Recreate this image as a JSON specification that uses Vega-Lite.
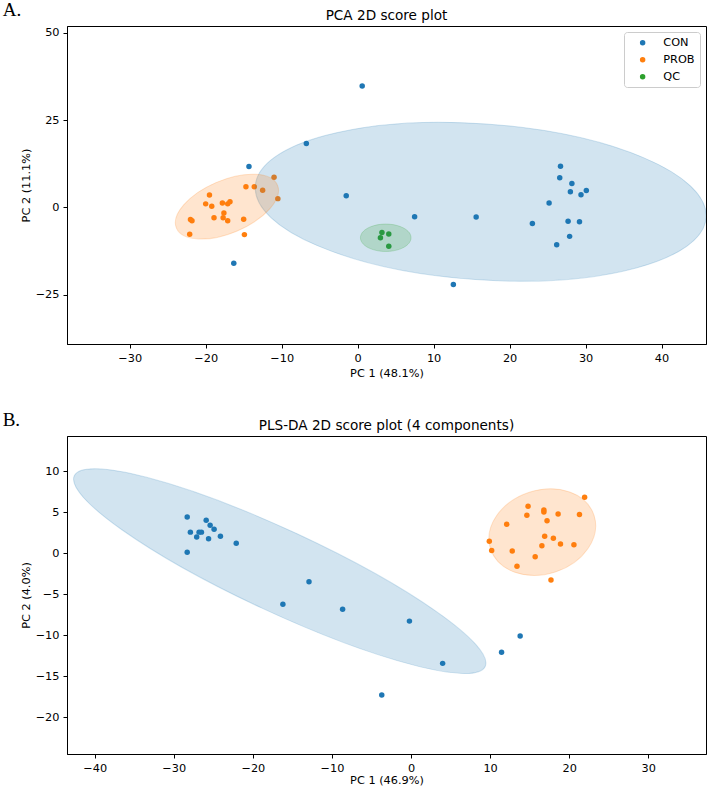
{
  "$schema": "https://vega.github.io/schema/vega-lite/v6.json",
  "background": "white",
  "padding": {"left": 2, "top": 1, "right": 2, "bottom": 0},
  "spacing": 31,
  "config": {
    "font": "DejaVu Sans",
    "view": {"stroke": "#000", "strokeWidth": 1},
    "title": {"font": "DejaVu Sans", "fontSize": 13.6, "fontWeight": "normal", "color": "#000"},
    "axis": {
      "grid": false, "domainColor": "#000", "tickColor": "#000", "tickSize": 4,
      "labelFont": "DejaVu Sans", "labelFontSize": 11.3, "labelColor": "#000", "labelPadding": 4,
      "titleFont": "DejaVu Sans", "titleFontSize": 11.3, "titleFontWeight": "normal", "titleColor": "#000", "titlePadding": 4,
      "labelFlush": false, "labelOverlap": false
    },
    "legend": {
      "title": null, "orient": "top-right", "offset": 6, "strokeColor": "#cccccc", "fillColor": "#ffffff",
      "cornerRadius": 3, "padding": 5, "rowPadding": 5, "symbolType": "circle", "symbolSize": 30,
      "symbolOpacity": 1, "symbolOffset": 8, "labelOffset": 15, "labelFont": "DejaVu Sans",
      "labelFontSize": 11.3, "labelColor": "#000"
    }
  },
  "datasets": {
    "pca": [
      {"group": "CON", "PC1": -6.75, "PC2": 18.3},
      {"group": "CON", "PC1": -14.3, "PC2": 11.7},
      {"group": "CON", "PC1": -1.5, "PC2": 3.35},
      {"group": "CON", "PC1": -16.3, "PC2": -16.0},
      {"group": "CON", "PC1": 0.6, "PC2": 34.7},
      {"group": "CON", "PC1": 7.5, "PC2": -2.7},
      {"group": "CON", "PC1": 15.6, "PC2": -2.75},
      {"group": "CON", "PC1": 12.6, "PC2": -22.1},
      {"group": "CON", "PC1": 26.7, "PC2": 11.75},
      {"group": "CON", "PC1": 26.6, "PC2": 8.5},
      {"group": "CON", "PC1": 28.2, "PC2": 6.8},
      {"group": "CON", "PC1": 28.0, "PC2": 4.5},
      {"group": "CON", "PC1": 29.4, "PC2": 3.6},
      {"group": "CON", "PC1": 30.1, "PC2": 4.8},
      {"group": "CON", "PC1": 25.2, "PC2": 1.25},
      {"group": "CON", "PC1": 23.0, "PC2": -4.6},
      {"group": "CON", "PC1": 27.7, "PC2": -4.0},
      {"group": "CON", "PC1": 29.2, "PC2": -4.1},
      {"group": "CON", "PC1": 27.9, "PC2": -8.3},
      {"group": "CON", "PC1": 26.2, "PC2": -10.7},
      {"group": "PROB", "PC1": -22.1, "PC2": -7.7},
      {"group": "PROB", "PC1": -22.0, "PC2": -3.5},
      {"group": "PROB", "PC1": -21.8, "PC2": -3.8},
      {"group": "PROB", "PC1": -19.5, "PC2": 3.55},
      {"group": "PROB", "PC1": -20.0, "PC2": 1.0},
      {"group": "PROB", "PC1": -19.2, "PC2": 0.3},
      {"group": "PROB", "PC1": -18.9, "PC2": -3.0},
      {"group": "PROB", "PC1": -17.8, "PC2": 1.25},
      {"group": "PROB", "PC1": -17.1, "PC2": 1.0},
      {"group": "PROB", "PC1": -16.8, "PC2": 1.6},
      {"group": "PROB", "PC1": -17.6, "PC2": -1.6},
      {"group": "PROB", "PC1": -17.7, "PC2": -3.0},
      {"group": "PROB", "PC1": -17.1, "PC2": -3.8},
      {"group": "PROB", "PC1": -15.0, "PC2": -3.4},
      {"group": "PROB", "PC1": -14.9, "PC2": -7.8},
      {"group": "PROB", "PC1": -14.7, "PC2": 5.9},
      {"group": "PROB", "PC1": -13.6, "PC2": 5.9},
      {"group": "PROB", "PC1": -12.5, "PC2": 4.9},
      {"group": "PROB", "PC1": -11.0, "PC2": 8.6},
      {"group": "PROB", "PC1": -10.5, "PC2": 2.5},
      {"group": "QC", "PC1": 3.2, "PC2": -7.2},
      {"group": "QC", "PC1": 3.0, "PC2": -8.7},
      {"group": "QC", "PC1": 4.1, "PC2": -7.6},
      {"group": "QC", "PC1": 4.1, "PC2": -11.1}
    ],
    "pcaEllipses": [
      {"group": "CON", "PC1": 16.2, "PC2": 1.6},
      {"group": "PROB", "PC1": -17.2, "PC2": 0.2},
      {"group": "QC", "PC1": 3.7, "PC2": -8.7}
    ],
    "pls": [
      {"group": "CON", "PC1": -28.3, "PC2": 4.4},
      {"group": "CON", "PC1": -27.9, "PC2": 2.55},
      {"group": "CON", "PC1": -28.3, "PC2": 0.1},
      {"group": "CON", "PC1": -27.1, "PC2": 1.95},
      {"group": "CON", "PC1": -26.8, "PC2": 2.55},
      {"group": "CON", "PC1": -26.5, "PC2": 2.55},
      {"group": "CON", "PC1": -25.9, "PC2": 4.0},
      {"group": "CON", "PC1": -25.4, "PC2": 3.4},
      {"group": "CON", "PC1": -25.6, "PC2": 1.75},
      {"group": "CON", "PC1": -24.9, "PC2": 2.9},
      {"group": "CON", "PC1": -24.1, "PC2": 2.05},
      {"group": "CON", "PC1": -22.1, "PC2": 1.2},
      {"group": "CON", "PC1": -16.2, "PC2": -6.25},
      {"group": "CON", "PC1": -12.9, "PC2": -3.5},
      {"group": "CON", "PC1": -8.65, "PC2": -6.85},
      {"group": "CON", "PC1": -0.2, "PC2": -8.3},
      {"group": "CON", "PC1": 4.0, "PC2": -13.45},
      {"group": "CON", "PC1": -3.7, "PC2": -17.3},
      {"group": "CON", "PC1": 11.45, "PC2": -12.1},
      {"group": "CON", "PC1": 13.8, "PC2": -10.1},
      {"group": "PROB", "PC1": 9.9, "PC2": 1.45},
      {"group": "PROB", "PC1": 10.2, "PC2": 0.3},
      {"group": "PROB", "PC1": 12.1, "PC2": 3.5},
      {"group": "PROB", "PC1": 12.8, "PC2": 0.25},
      {"group": "PROB", "PC1": 13.4, "PC2": -1.6},
      {"group": "PROB", "PC1": 14.8, "PC2": 5.7},
      {"group": "PROB", "PC1": 14.65, "PC2": 4.6},
      {"group": "PROB", "PC1": 15.7, "PC2": -0.45},
      {"group": "PROB", "PC1": 16.55, "PC2": 0.9},
      {"group": "PROB", "PC1": 16.8, "PC2": 5.25},
      {"group": "PROB", "PC1": 16.8, "PC2": 5.0},
      {"group": "PROB", "PC1": 16.9, "PC2": 2.05},
      {"group": "PROB", "PC1": 17.2, "PC2": 3.95},
      {"group": "PROB", "PC1": 17.7, "PC2": -3.3},
      {"group": "PROB", "PC1": 18.0, "PC2": 1.8},
      {"group": "PROB", "PC1": 18.6, "PC2": 4.75},
      {"group": "PROB", "PC1": 18.9, "PC2": 1.1},
      {"group": "PROB", "PC1": 20.6, "PC2": 1.0},
      {"group": "PROB", "PC1": 21.3, "PC2": 4.7},
      {"group": "PROB", "PC1": 21.95, "PC2": 6.8}
    ],
    "plsEllipses": [
      {"group": "CON", "PC1": -16.6, "PC2": -2.2},
      {"group": "PROB", "PC1": 16.6, "PC2": 2.55}
    ]
  },
  "vconcat": [
    {
      "title": {"text": "A.", "anchor": "start", "frame": "bounds", "font": "Liberation Serif", "fontSize": 19, "fontWeight": "normal", "color": "#000", "dx": -17, "offset": -11.5},
      "vconcat": [
        {
          "title": {"text": "PCA 2D score plot", "offset": 3},
          "width": 639,
          "height": 318,
          "encoding": {
            "x": {"field": "PC1", "type": "quantitative", "scale": {"domain": [-38.25, 45.85], "nice": false, "zero": false}, "axis": {"title": "PC 1 (48.1%)", "values": [-30, -20, -10, 0, 10, 20, 30, 40]}},
            "y": {"field": "PC2", "type": "quantitative", "scale": {"domain": [-39.1, 51.9], "nice": false, "zero": false}, "axis": {"title": "PC 2 (11.1%)", "values": [-25, 0, 25, 50]}}
          },
          "layer": [
            {
              "data": {"name": "pca"},
              "mark": {"type": "point", "filled": true, "size": 30, "opacity": 1},
              "encoding": {
                "color": {"field": "group", "type": "nominal", "scale": {"domain": ["CON", "PROB", "QC"], "range": ["#1f77b4", "#ff7f0e", "#2ca02c"]}}
              }
            },
            {
              "data": {"name": "pcaEllipses"},
              "transform": [{"filter": "datum.group === 'CON'"}],
              "mark": {"type": "point", "shape": "M-226,0A226,78,0,1,1,226,0A226,78,0,1,1,-226,0Z", "size": 4, "angle": 4, "clip": true, "opacity": 1, "fill": "#1f77b4", "fillOpacity": 0.2, "stroke": "#1f77b4", "strokeOpacity": 0.2, "strokeWidth": 1}
            },
            {
              "data": {"name": "pcaEllipses"},
              "transform": [{"filter": "datum.group === 'PROB'"}],
              "mark": {"type": "point", "shape": "M-54.9,0A54.9,26.4,0,1,1,54.9,0A54.9,26.4,0,1,1,-54.9,0Z", "size": 4, "angle": 337, "clip": true, "opacity": 1, "fill": "#ff7f0e", "fillOpacity": 0.2, "stroke": "#ff7f0e", "strokeOpacity": 0.2, "strokeWidth": 1}
            },
            {
              "data": {"name": "pcaEllipses"},
              "transform": [{"filter": "datum.group === 'QC'"}],
              "mark": {"type": "point", "shape": "M-25.3,0A25.3,13.7,0,1,1,25.3,0A25.3,13.7,0,1,1,-25.3,0Z", "size": 4, "angle": 0, "clip": true, "opacity": 1, "fill": "#2ca02c", "fillOpacity": 0.2, "stroke": "#2ca02c", "strokeOpacity": 0.2, "strokeWidth": 1}
            }
          ]
        }
      ]
    },
    {
      "title": {"text": "B.", "anchor": "start", "frame": "bounds", "font": "Liberation Serif", "fontSize": 19, "fontWeight": "normal", "color": "#000", "dx": -17, "offset": -11.5},
      "vconcat": [
        {
          "title": {"text": "PLS-DA 2D score plot (4 components)", "offset": 3},
          "width": 639,
          "height": 318,
          "encoding": {
            "x": {"field": "PC1", "type": "quantitative", "scale": {"domain": [-43.5, 37.3], "nice": false, "zero": false}, "axis": {"title": "PC 1 (46.9%)", "titlePadding": 1.5, "values": [-40, -30, -20, -10, 0, 10, 20, 30]}},
            "y": {"field": "PC2", "type": "quantitative", "scale": {"domain": [-24.5, 14.27], "nice": false, "zero": false}, "axis": {"title": "PC 2 (4.0%)", "values": [-20, -15, -10, -5, 0, 5, 10]}}
          },
          "layer": [
            {
              "data": {"name": "pls"},
              "mark": {"type": "point", "filled": true, "size": 30, "opacity": 1},
              "encoding": {
                "color": {"field": "group", "type": "nominal", "scale": {"domain": ["CON", "PROB"], "range": ["#1f77b4", "#ff7f0e"]}}
              }
            },
            {
              "data": {"name": "plsEllipses"},
              "transform": [{"filter": "datum.group === 'CON'"}],
              "mark": {"type": "point", "shape": "M-226.5,0A226.5,41.1,0,1,1,226.5,0A226.5,41.1,0,1,1,-226.5,0Z", "size": 4, "angle": 24.9, "clip": true, "opacity": 1, "fill": "#1f77b4", "fillOpacity": 0.2, "stroke": "#1f77b4", "strokeOpacity": 0.2, "strokeWidth": 1}
            },
            {
              "data": {"name": "plsEllipses"},
              "transform": [{"filter": "datum.group === 'PROB'"}],
              "mark": {"type": "point", "shape": "M-54.4,0A54.4,42,0,1,1,54.4,0A54.4,42,0,1,1,-54.4,0Z", "size": 4, "angle": 342, "clip": true, "opacity": 1, "fill": "#ff7f0e", "fillOpacity": 0.2, "stroke": "#ff7f0e", "strokeOpacity": 0.2, "strokeWidth": 1}
            }
          ]
        }
      ]
    }
  ]
}
